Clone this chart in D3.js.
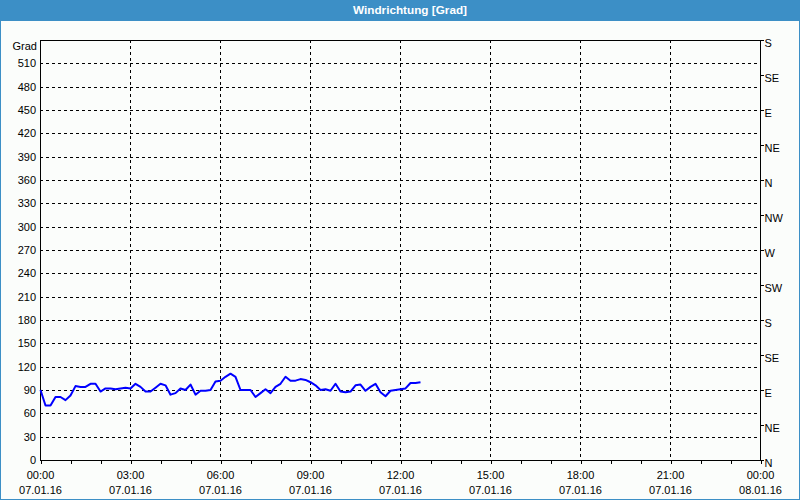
<!DOCTYPE html>
<html><head><meta charset="utf-8">
<script src="https://cdn.jsdelivr.net/npm/d3@7"></script>
<style>
html,body{margin:0;padding:0;background:#fbfdfb;}
text{font-family:"Liberation Sans",Arial,sans-serif;font-size:11px;fill:#000;}
</style></head><body>
<svg id="c" width="800" height="500"></svg>
<script>
const title = "Windrichtung [Grad]";
const unitLabel = "Grad";
const leftTicks = [0,30,60,90,120,150,180,210,240,270,300,330,360,390,420,450,480,510];
const rightTickValues = [0,45,90,135,180,225,270,315,360,405,450,495,540];
const rightTickLabels = ["N","NE","E","SE","S","SW","W","NW","N","NE","E","SE","S"];
const xTickTimes = ["00:00","03:00","06:00","09:00","12:00","15:00","18:00","21:00","00:00"];
const xTickDates = ["07.01.16","07.01.16","07.01.16","07.01.16","07.01.16","07.01.16","07.01.16","07.01.16","08.01.16"];
const times = ["00:00","00:10","00:20","00:30","00:40","00:50","01:00","01:10","01:20","01:30","01:40","01:50",
"02:00","02:10","02:20","02:30","02:40","02:50","03:00","03:10","03:20","03:30","03:40","03:50",
"04:00","04:10","04:20","04:30","04:40","04:50","05:00","05:10","05:20","05:30","05:40","05:50",
"06:00","06:10","06:20","06:30","06:40","06:50","07:00","07:10","07:20","07:30","07:40","07:50",
"08:00","08:10","08:20","08:30","08:40","08:50","09:00","09:10","09:20","09:30","09:40","09:50",
"10:00","10:10","10:20","10:30","10:40","10:50","11:00","11:10","11:20","11:30","11:40","11:50",
"12:00","12:10","12:20","12:30","12:40"];
const values = [90,70,70,81,81,77,83,95,94,94,98,98,
88,92,92,91,92,93,92,98,94,88,88,93,
98,96,84,86,92,90,97,84,89,89,90,101,
102,107,111,107,90,90,90,81,86,91,86,94,
98,107,102,102,104,103,100,96,90,91,89,98,
88,87,88,96,97,89,94,98,87,82,89,90,
91,92,99,99,100];

const svg = d3.select("#c");
const W=800,H=500, L=40,R=760,T=40,B=460;
const toHours = s => { const [h,m]=s.split(":").map(Number); return h+m/60; };

const x = d3.scaleLinear().domain([0,24]).range([L,R]);
const y = d3.scaleLinear().domain([0,540]).range([B,T]);

// title bar
svg.append("rect").attr("x",0).attr("y",0).attr("width",W).attr("height",21).attr("fill","#3c8fc6");
svg.append("text").attr("x",410).attr("y",14).attr("text-anchor","middle")
  .attr("textLength",114).attr("lengthAdjust","spacingAndGlyphs")
  .style("fill","#fff").style("font-weight","bold").text(title);
// outer border
svg.append("rect").attr("x",0.5).attr("y",0.5).attr("width",W-1).attr("height",H-1)
  .attr("fill","none").attr("stroke","#3c8fc6");

const g = svg.append("g").attr("shape-rendering","crispEdges");
// horizontal grid
g.selectAll("line.hg").data(leftTicks.filter(v=>v>0)).join("line")
  .attr("x1",L).attr("x2",R).attr("y1",d=>Math.round(y(d))+0.5).attr("y2",d=>Math.round(y(d))+0.5)
  .attr("stroke","#000").attr("stroke-dasharray","3,3");
// vertical grid
const gridHours = [3,6,9,12,15,18,21];
g.selectAll("line.vg").data(gridHours).join("line")
  .attr("y1",T).attr("y2",B).attr("x1",d=>Math.round(x(d))+0.5).attr("x2",d=>Math.round(x(d))+0.5)
  .attr("stroke","#000").attr("stroke-dasharray","3,3");

// frame
g.append("rect").attr("x",L+0.5).attr("y",T+0.5).attr("width",R-L).attr("height",B-T)
  .attr("fill","none").attr("stroke","#000");

// left axis labels
const leftAxis = d3.axisLeft(y).tickValues(leftTicks).tickSize(0).tickPadding(4);
const la = svg.append("g").attr("transform",`translate(${L},0)`).call(leftAxis);
la.select(".domain").remove();
la.selectAll("text").attr("font-family",null).attr("font-size",null);
svg.append("text").attr("x",L-3).attr("y",50).attr("text-anchor","end").text(unitLabel);

// right axis
const rightAxis = d3.axisRight(y).tickValues(rightTickValues).tickFormat((d,i)=>rightTickLabels[i]).tickSize(3).tickPadding(1);
const ra = svg.append("g").attr("transform",`translate(${R+0.5},0)`).attr("shape-rendering","crispEdges").call(rightAxis);
ra.select(".domain").remove();
ra.selectAll("text").attr("font-family",null).attr("font-size",null).attr("dy","0.55em");

// bottom ticks (hourly)
const hours = d3.range(0,25);
const bx = d3.axisBottom(x).tickValues(hours).tickSize(3).tickFormat("");
const ba = svg.append("g").attr("transform",`translate(0.5,${B+0.5})`).attr("shape-rendering","crispEdges").call(bx);
ba.select(".domain").remove();
// bottom labels
const labH = [0,3,6,9,12,15,18,21,24];
svg.selectAll("text.xt").data(labH).join("text").attr("class","xt")
  .attr("x",d=>x(d)+0.5).attr("y",479).attr("text-anchor","middle").text((d,i)=>xTickTimes[i]);
svg.selectAll("text.xd").data(labH).join("text").attr("class","xd")
  .attr("x",d=>x(d)+0.5).attr("y",494).attr("text-anchor","middle").text((d,i)=>xTickDates[i]);

// data line
const data = times.map((t,i)=>({h:toHours(t), v:values[i]}));
svg.append("path").datum(data)
  .attr("d", d3.line().x(d=>x(d.h)+0.5).y(d=>y(d.v)))
  .attr("fill","none").attr("stroke","#0000ff").attr("stroke-width",2).attr("stroke-linejoin","round");
</script>
</body></html>
